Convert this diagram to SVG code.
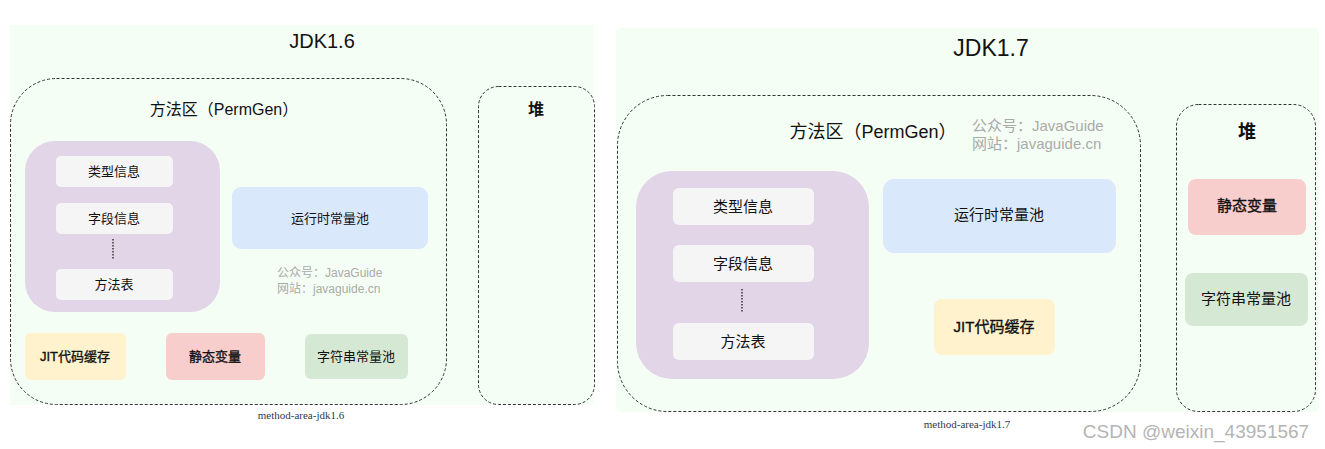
<svg xmlns="http://www.w3.org/2000/svg" width="1325" height="449" viewBox="0 0 1325 449">
<style>
text{font-family:"Liberation Sans","Noto Sans CJK SC",sans-serif;fill:#111;text-anchor:middle}
.bg{fill:#F5FEF5}
.dash{fill:none;stroke:#333;stroke-width:1;stroke-dasharray:3 2}
.purple{fill:#E1D5E7}
.item{fill:#F5F5F5}
.blue{fill:#DAE8FC}
.yellow{fill:#FFF2CC}
.red{fill:#F8CECC}
.green{fill:#D5E8D4}
.semi{stroke:#111;stroke-width:0.35}
.wm{fill:#AAAAAA;text-anchor:start}
.cap{font-family:"Liberation Serif","Noto Sans CJK SC",serif;fill:#2E3A4F;font-size:11px}
.dots{stroke:#333;stroke-width:1.5;stroke-dasharray:1.5 1.5}
</style>
<rect width="1325" height="449" fill="#fff"/>

<!-- JDK 1.6 -->
<g id="panel-jdk16">
<rect class="bg" x="10" y="25" width="584" height="380"/>
<text x="322" y="48" font-size="20">JDK1.6</text>
</g>
<g id="method-area-16">
<rect class="dash" x="10.5" y="78.5" width="436" height="326" rx="46" ry="46"/>
<text x="224" y="115" font-size="16">方法区（PermGen）</text>
</g>
<g id="heap-16">
<rect class="dash" x="478.5" y="86.5" width="116" height="318" rx="20" ry="20"/>
<text x="536" y="115" font-size="16" font-weight="bold">堆</text>
</g>
<g id="class-info-16">
<rect class="purple" x="25" y="141" width="195" height="171" rx="30" ry="30"/>
</g>
<g id="type-info-16"><rect class="item" x="56" y="156" width="117" height="31" rx="5"/><text x="114" y="176" font-size="13">类型信息</text></g>
<g id="field-info-16"><rect class="item" x="56" y="203" width="117" height="31" rx="5"/><text x="114" y="223" font-size="13">字段信息</text></g>
<g id="method-table-16"><rect class="item" x="56" y="269" width="117" height="31" rx="5"/><text x="114" y="289" font-size="13">方法表</text></g>
<g id="rcp-16"><rect class="blue" x="232" y="187" width="196" height="62" rx="9"/><text x="330" y="223" font-size="13">运行时常量池</text></g>
<g id="watermark-16">
<text class="wm" x="277" y="277" font-size="12">公众号：JavaGuide</text>
<text class="wm" x="277" y="293" font-size="12">网站：javaguide.cn</text>
</g>
<g id="jit-16"><rect class="yellow" x="25" y="333" width="101" height="47" rx="6"/><text class="semi" x="75" y="361" font-size="13">JIT代码缓存</text></g>
<g id="static-16"><rect class="red" x="166" y="333" width="99" height="47" rx="6"/><text class="semi" x="215" y="361" font-size="13">静态变量</text></g>
<g id="strpool-16"><rect class="green" x="305" y="334" width="103" height="45" rx="6"/><text x="356" y="361" font-size="13">字符串常量池</text></g>
<text class="cap" x="301" y="419">method-area-jdk1.6</text>

<!-- JDK 1.7 -->
<g id="panel-jdk17">
<rect class="bg" x="616" y="28" width="703" height="384" rx="5" ry="5"/>
<text x="991" y="56" font-size="23">JDK1.7</text>
</g>
<g id="method-area-17">
<rect class="dash" x="617.5" y="95.5" width="523" height="316" rx="50" ry="50"/>
<text x="873" y="138" font-size="18">方法区（PermGen）</text>
</g>
<g id="watermark-17">
<text class="wm" x="972" y="131" font-size="15">公众号：JavaGuide</text>
<text class="wm" x="972" y="149" font-size="15">网站：javaguide.cn</text>
</g>
<g id="heap-17">
<rect class="dash" x="1176.5" y="104.5" width="139" height="307" rx="22" ry="22"/>
<text x="1247" y="138" font-size="18" font-weight="bold">堆</text>
</g>
<g id="class-info-17">
<rect class="purple" x="636" y="171" width="233" height="208" rx="36" ry="36"/>
</g>
<g id="dots-16-17">
<line class="dots" x1="113" y1="239" x2="113" y2="259"/>
<line class="dots" x1="742" y1="289" x2="742" y2="313"/>
</g>
<g id="type-info-17"><rect class="item" x="673" y="188" width="141" height="37" rx="6"/><text x="743" y="212" font-size="15">类型信息</text></g>
<g id="field-info-17"><rect class="item" x="673" y="245" width="141" height="37" rx="6"/><text x="743" y="269" font-size="15">字段信息</text></g>
<g id="method-table-17"><rect class="item" x="673" y="323" width="141" height="37" rx="6"/><text x="743" y="347" font-size="15">方法表</text></g>
<g id="rcp-17"><rect class="blue" x="883" y="179" width="233" height="74" rx="11"/><text x="999" y="220" font-size="15">运行时常量池</text></g>
<g id="jit-17"><rect class="yellow" x="934" y="299" width="121" height="56" rx="8"/><text class="semi" x="994" y="332" font-size="15">JIT代码缓存</text></g>
<g id="static-17"><rect class="red" x="1188" y="179" width="118" height="56" rx="8"/><text class="semi" x="1247" y="211" font-size="15">静态变量</text></g>
<g id="strpool-17"><rect class="green" x="1185" y="273" width="123" height="53" rx="8"/><text x="1246" y="304" font-size="15">字符串常量池</text></g>
<text class="cap" x="967" y="428">method-area-jdk1.7</text>
<text x="1196" y="438" font-size="19" style="fill:#B4B4B4">CSDN @weixin_43951567</text>
</svg>
